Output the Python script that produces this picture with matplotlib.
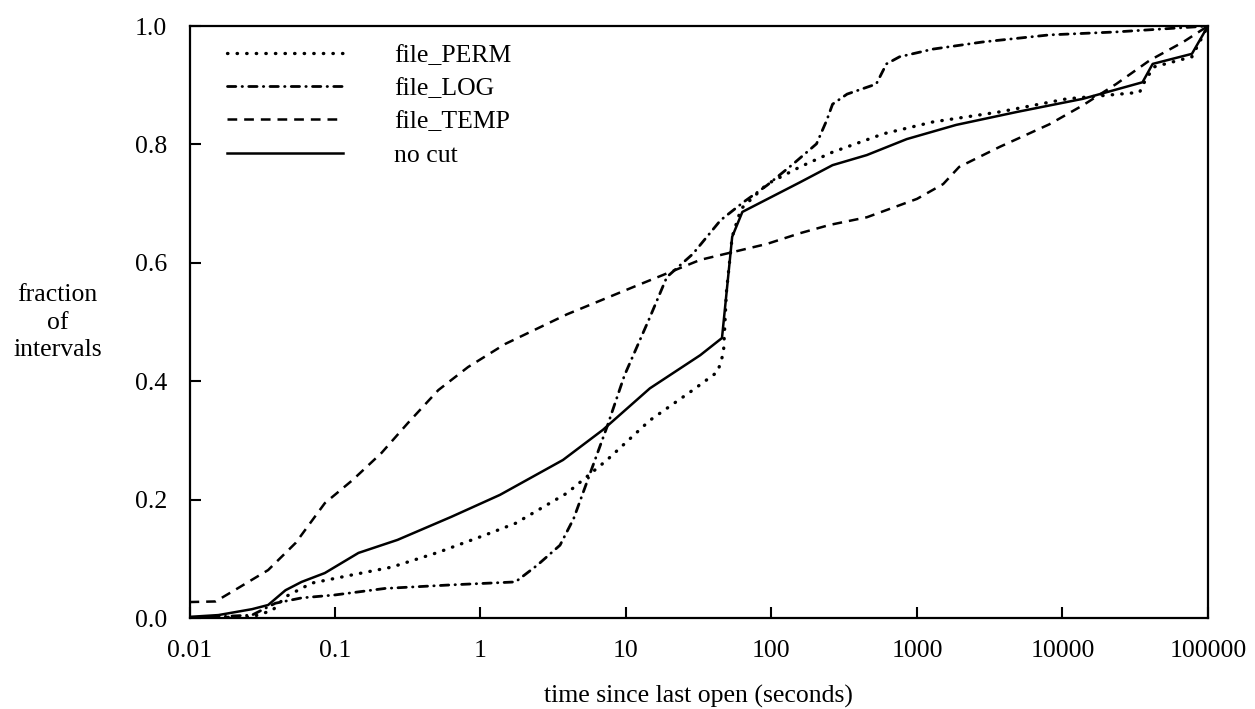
import matplotlib
matplotlib.use("Agg")
import matplotlib.pyplot as plt

plt.rcParams['font.family'] = ['Liberation Serif', 'DejaVu Serif']
plt.rcParams['lines.scale_dashes'] = False

# time since last open (seconds) and fraction of intervals
perm_t = [0.01, 0.0269, 0.0372, 0.0457, 0.0692, 0.132, 0.245, 0.513, 1.07, 1.74,
          3.93, 7.41, 14.6, 28.8, 42.7, 46.8, 49.0, 53.7, 61.7, 93.3, 157, 263,
          589, 1288, 3715, 10700, 33900, 37200, 42700, 77600, 100000]
perm_f = [0.0, 0.002, 0.013, 0.036, 0.059, 0.073, 0.086, 0.111, 0.140, 0.160,
          0.211, 0.267, 0.334, 0.385, 0.416, 0.448, 0.55, 0.644, 0.691, 0.733, 0.762, 0.787,
          0.818, 0.838, 0.855, 0.877, 0.888, 0.909, 0.931, 0.948, 1.0]

log_t = [0.01, 0.0269, 0.0389, 0.0589, 0.1, 0.221, 0.631, 1.74, 2.45, 3.52, 4.37,
         5.68, 7.41, 9.77, 14.6, 19.1, 28.8, 44.7, 64.6, 93.3, 141, 204, 240, 263,
         331, 525, 617, 759, 1288, 2818, 8128, 23400, 100000]
log_f = [0.0, 0.005, 0.025, 0.034, 0.039, 0.050, 0.056, 0.061, 0.089, 0.123, 0.168,
         0.245, 0.323, 0.410, 0.508, 0.576, 0.615, 0.672, 0.703, 0.731, 0.767, 0.801, 0.841, 0.868,
         0.885, 0.902, 0.936, 0.948, 0.961, 0.973, 0.985, 0.990, 1.0]

temp_t = [0.01, 0.0151, 0.0204, 0.0347, 0.0537, 0.0851, 0.132, 0.209, 0.316, 0.513,
          0.822, 1.48, 3.93, 11.2, 32.4, 93.3, 157, 251, 453, 1000, 1514, 1950,
          3715, 8128, 13800, 23400, 39800, 67600, 100000]
temp_f = [0.027, 0.028, 0.047, 0.081, 0.127, 0.194, 0.233, 0.279, 0.329, 0.385,
          0.424, 0.463, 0.513, 0.559, 0.605, 0.632, 0.650, 0.664, 0.677, 0.708, 0.733, 0.762,
          0.796, 0.834, 0.866, 0.902, 0.942, 0.973, 1.0]

nocut_t = [0.01, 0.0158, 0.0269, 0.0347, 0.0457, 0.0589, 0.0851, 0.145, 0.269, 0.631,
           1.36, 3.69, 6.95, 14.6, 32.4, 45.7, 53.7, 63.1, 157, 263, 452, 851, 1862,
           4898, 13800, 35500, 41700, 77600, 100000]
nocut_f = [0.002, 0.005, 0.015, 0.022, 0.047, 0.061, 0.076, 0.110, 0.132, 0.171,
           0.208, 0.267, 0.318, 0.388, 0.444, 0.473, 0.644, 0.686, 0.736, 0.765, 0.782, 0.809, 0.833,
           0.855, 0.877, 0.905, 0.936, 0.953, 1.0]

x_ticks = [0.01, 0.1, 1, 10, 100, 1000, 10000, 100000]
x_labels = ['0.01', '0.1', '1', '10', '100', '1000', '10000', '100000']
y_ticks = [0.0, 0.2, 0.4, 0.6, 0.8, 1.0]

fs = 18.5

fig = plt.figure(figsize=(12.55, 7.09), dpi=100)
ax = fig.add_axes([0.151, 0.1283, 0.8115, 0.835])

ax.plot(perm_t, perm_f, color='black', lw=2.4, linestyle=(0, (0.3, 6.6)),
        dash_capstyle='round', label='file_PERM')
ax.plot(log_t, log_f, color='black', lw=2.0, linestyle=(0, (6, 4.5, 0.3, 4.5)),
        dash_capstyle='round', label='file_LOG')
ax.plot(temp_t, temp_f, color='black', lw=1.8, linestyle=(0, (7, 5)), label='file_TEMP')
ax.plot(nocut_t, nocut_f, color='black', lw=1.8, label='no cut')

ax.set_xscale('log')
ax.set_xlim(0.01, 100000)
ax.set_ylim(0, 1.0)
ax.set_xticks(x_ticks)
ax.set_xticklabels(x_labels)
ax.set_yticks(y_ticks)
ax.set_yticklabels(['%.1f' % v for v in y_ticks])
ax.minorticks_off()
ax.tick_params(direction='in', length=8, width=1.5, labelsize=fs,
               top=False, right=False)
ax.tick_params(axis='x', pad=16)
ax.tick_params(axis='y', pad=16)
for s in ax.spines.values():
    s.set_linewidth(1.6)

ax.legend(loc='upper left', bbox_to_anchor=(0.037, 0.97), frameon=False,
          fontsize=fs, handlelength=4.5, handletextpad=2.0, labelspacing=0.4,
          borderpad=0, borderaxespad=0)

ax.set_xlabel('time since last open (seconds)', fontsize=fs, labelpad=16)
fig.text(0.046, 0.545, 'fraction\nof\nintervals', fontsize=fs, ha='center',
         va='center', linespacing=1.3)

fig.savefig('out.png', dpi=100)
